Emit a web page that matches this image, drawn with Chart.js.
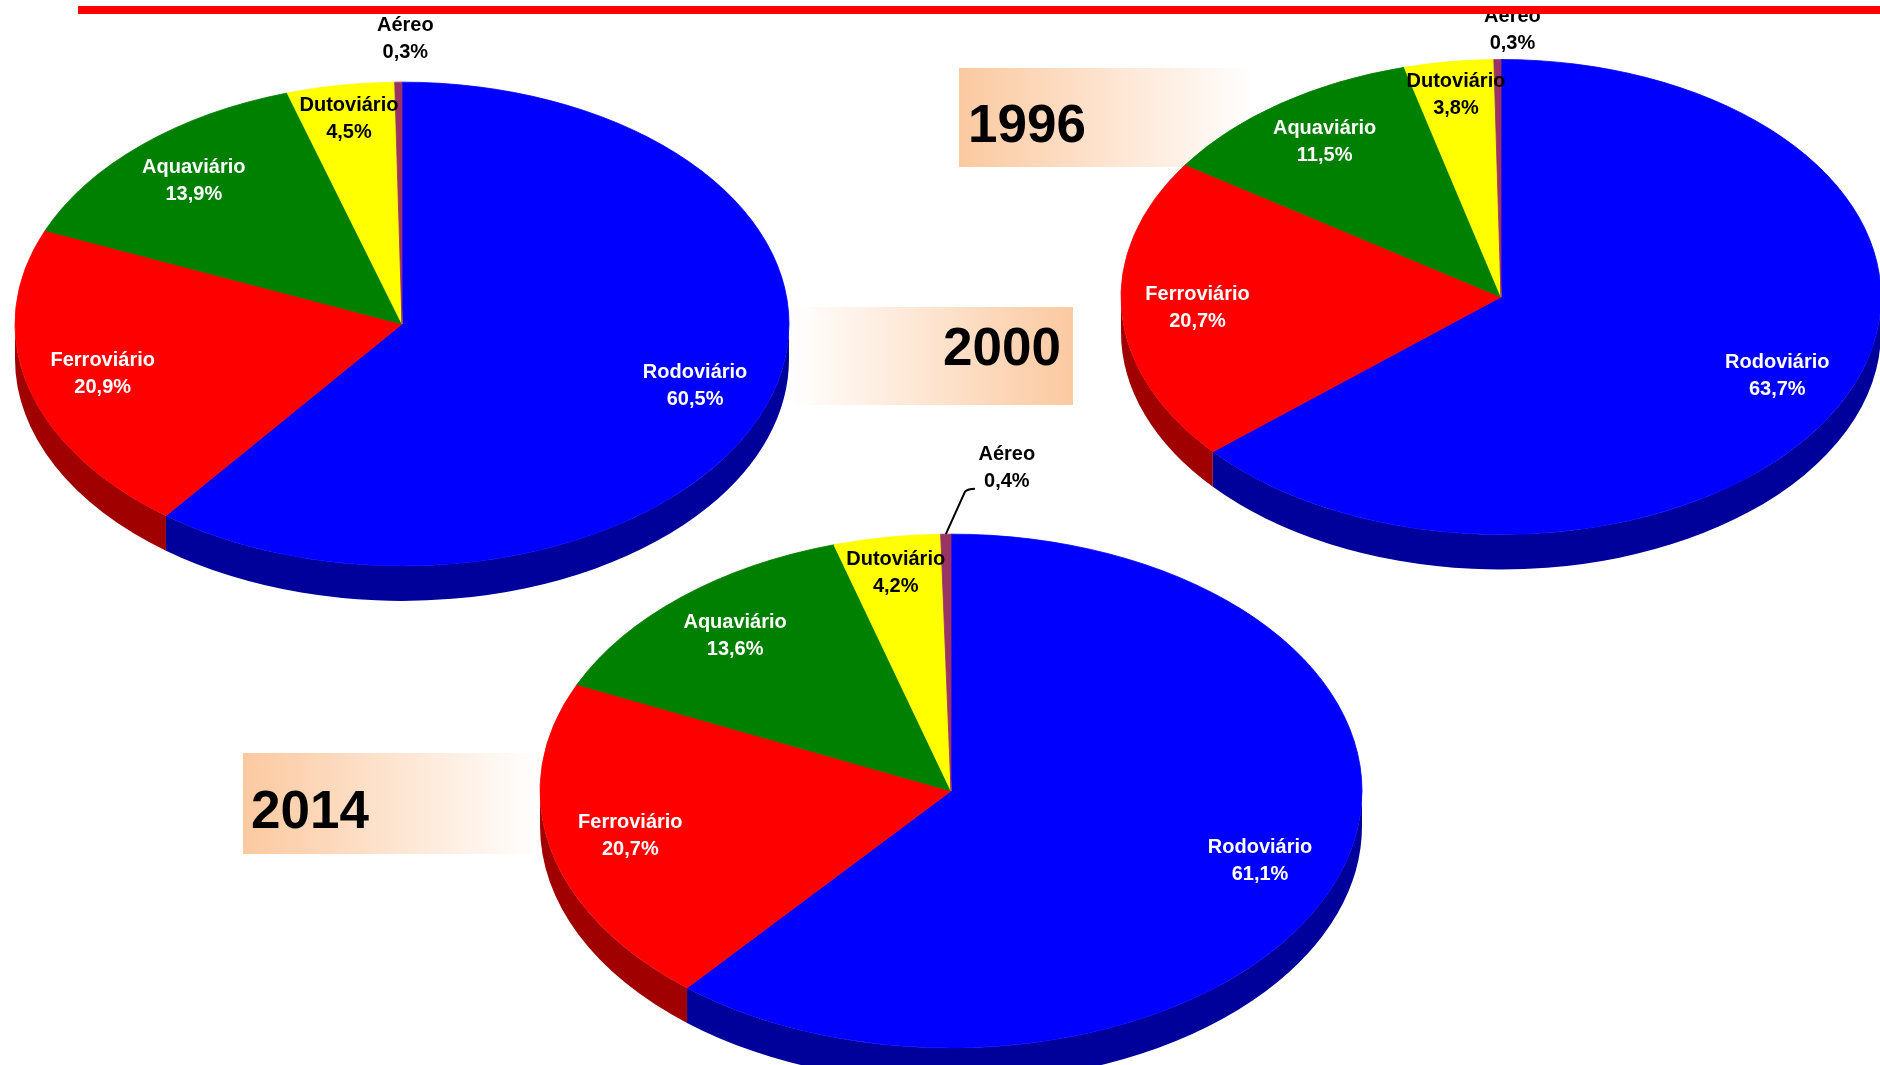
<!DOCTYPE html>
<html lang="pt-BR">
<head>
<meta charset="utf-8">
<title>Matriz de transporte de cargas</title>
<script src="https://cdn.jsdelivr.net/npm/chart.js@4.4.1/dist/chart.umd.min.js"></script>
<style>
  html, body {
    margin: 0;
    padding: 0;
    width: 1880px;
    height: 1065px;
    overflow: hidden;
    background: #ffffff;
    font-family: "Liberation Sans", Arial, sans-serif;
  }
  .linha {
    position: absolute;
    left: 78px;
    right: 0;
    top: 6px;
    height: 8px;
    background: #ff0000;
    z-index: 5;
  }
  .ano {
    position: absolute;
    z-index: 1;
  }
  .ano span {
    position: absolute;
    font-weight: bold;
    font-size: 53px;
    line-height: 60px;
    color: #000;
  }
  .grafico {
    position: absolute;
    z-index: 2;
  }
</style>
</head>
<body>

<div class="linha"></div>

<div class="ano" style="left:959px; top:68px; width:295px; height:99px; background:linear-gradient(to right, #fbc9a0, #ffffff);">
  <span style="left:9px; top:26px;">1996</span>
</div>
<div class="ano" style="left:790px; top:307px; width:283px; height:98px; background:linear-gradient(to right, #ffffff, #fbc9a0);">
  <span style="right:12px; top:10px;">2000</span>
</div>
<div class="ano" style="left:243px; top:753px; width:297px; height:101px; background:linear-gradient(to right, #fbc9a0, #ffffff);">
  <span style="left:8px; top:27px;">2014</span>
</div>

<div class="grafico" id="box2000"><canvas id="pizza2000"></canvas></div>
<div class="grafico" id="box1996"><canvas id="pizza1996"></canvas></div>
<div class="grafico" id="box2014"><canvas id="pizza2014"></canvas></div>

<script>
const modos = ['Rodoviário', 'Ferroviário', 'Aquaviário', 'Dutoviário', 'Aéreo'];

const dados1996 = [63.7, 20.7, 11.5, 3.8, 0.3];
const dados2000 = [60.5, 20.9, 13.9, 4.5, 0.3];
const dados2014 = [61.1, 20.7, 13.6, 4.2, 0.4];

const cores        = ['#0000ff', '#ff0000', '#008000', '#ffff00', '#993366'];
const coresLateral = ['#00009a', '#a00000', '#004000', '#999900', '#5c1f3d'];
const corTexto     = ['#ffffff', '#ffffff', '#ffffff', '#000000', '#000000'];

const formata = (v) => v.toFixed(1).replace('.', ',') + '%';

/* pizza "3D": lateral desenhada antes, topo achatado com scale() */
const pizza3d = {
  id: 'pizza3d',
  beforeDatasetsDraw(chart, args, opts) {
    const ctx = chart.ctx;
    const arcs = chart.getDatasetMeta(0).data;
    const {x, y, outerRadius} = arcs[0];
    const ry = outerRadius * opts.tilt;

    arcs.forEach((arc, i) => {
      // so a metade de baixo (0..PI) mostra a lateral
      const a = Math.max(arc.startAngle, 0);
      const b = Math.min(arc.endAngle, Math.PI);
      if (b <= a) return;
      ctx.beginPath();
      ctx.ellipse(x, y, outerRadius, ry, 0, a, b);
      ctx.ellipse(x, y + opts.depth, outerRadius, ry, 0, b, a, true);
      ctx.closePath();
      ctx.fillStyle = coresLateral[i];
      ctx.fill();
    });

    ctx.save();
    ctx.translate(x, y);
    ctx.scale(1, opts.tilt);
    ctx.translate(-x, -y);
  },
  afterDatasetsDraw(chart) {
    chart.ctx.restore();
  },
  afterDraw(chart, args, opts) {
    const ctx = chart.ctx;
    const valores = chart.data.datasets[0].data;
    ctx.save();
    ctx.font = 'bold 20px "Liberation Sans", Arial, sans-serif';
    ctx.textAlign = 'center';
    ctx.textBaseline = 'middle';

    chart.getDatasetMeta(0).data.forEach((arc, i) => {
      const mid = (arc.startAngle + arc.endAngle) / 2;
      const rx = arc.outerRadius;
      const ry = rx * opts.tilt;
      const v = valores[i];
      let px, py;

      if (v < 1) {
        // fatia fina: rotulo fora da pizza
        const ex = arc.x + rx * Math.cos(mid);
        const ey = arc.y + ry * Math.sin(mid);
        px = ex + opts.fora[0];
        py = ey + opts.fora[1];
        if (opts.guia) {
          const esq = px - ctx.measureText(formata(v)).width / 2;
          const yb = py + 13.5;
          ctx.beginPath();
          ctx.moveTo(ex, ey);
          ctx.lineTo(esq - 19, yb + 10);
          ctx.quadraticCurveTo(esq - 16, yb + 7, esq - 9, yb + 7);
          ctx.strokeStyle = '#000';
          ctx.lineWidth = 2;
          ctx.stroke();
        }
      } else {
        const f = v < 10 ? 0.86 : 0.8;
        px = arc.x + f * rx * Math.cos(mid);
        py = arc.y + f * ry * Math.sin(mid);
      }

      ctx.fillStyle = corTexto[i];
      ctx.fillText(modos[i], px, py - 13.5);
      ctx.fillText(formata(v), px, py + 13.5);
    });
    ctx.restore();
  }
};

function criaPizza(id, dados, cx, cy, raio, extra) {
  const lado = 2 * raio + 20;
  const box = document.getElementById('box' + id);
  box.style.left = (cx - lado / 2) + 'px';
  box.style.top = (cy - lado / 2) + 'px';
  const canvas = document.getElementById('pizza' + id);
  canvas.width = lado;
  canvas.height = lado;

  const config = {
    type: 'pie',
    data: {
      labels: modos,
      datasets: [{
        data: dados,
        backgroundColor: cores,
        borderColor: cores,
        borderWidth: 1,
        radius: raio,
      }]
    },
    options: {
      responsive: false,
      animation: false,
      events: [],
      layout: { padding: 0 },
      plugins: {
        legend: { display: false },
        tooltip: { enabled: false },
        pizza3d: Object.assign({ tilt: 0.625, depth: 35, fora: [0, -40], guia: false }, extra)
      }
    },
    plugins: [pizza3d]
  };

  return new Chart(canvas.getContext('2d'), config);
}

var pizza2000 = criaPizza('2000', dados2000, 402, 324, 387, { fora: [7, -43] });
var pizza1996 = criaPizza('1996', dados1996, 1501, 297, 380, { fora: [15, -30] });
var pizza2014 = criaPizza('2014', dados2014, 951, 791, 411, { fora: [61, -66], guia: true });
</script>
</body>
</html>
